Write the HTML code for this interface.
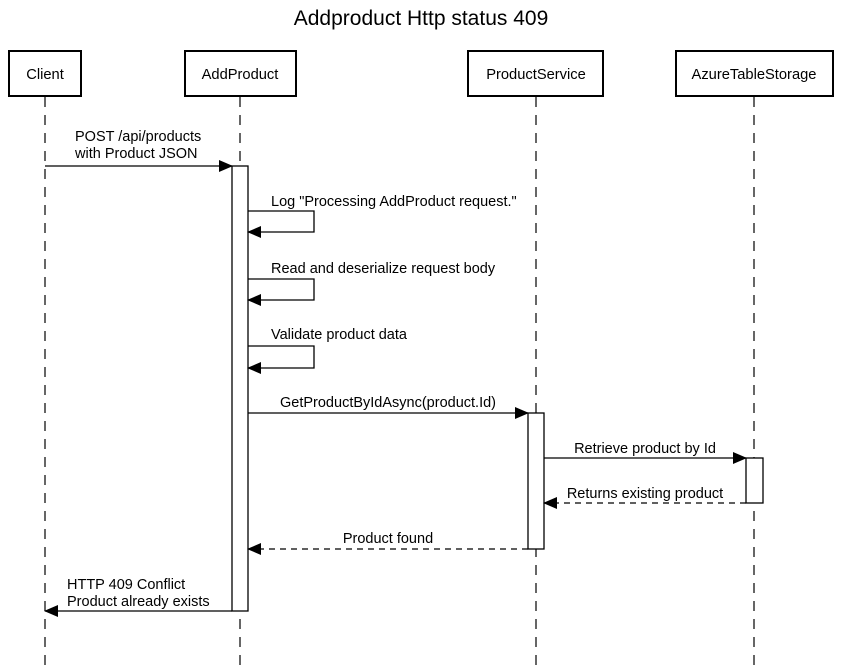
<!DOCTYPE html>
<html><head><meta charset="utf-8"><style>
html,body{margin:0;padding:0;background:#fff;}
svg{display:block;font-family:"Liberation Sans",Arial,sans-serif;}
</style></head><body>
<svg width="842" height="669" viewBox="0 0 842 669" xmlns="http://www.w3.org/2000/svg">
<defs>
<marker id="a" markerWidth="14" markerHeight="12" refX="13" refY="6" orient="auto" markerUnits="userSpaceOnUse">
<path d="M0,0 L14,6 L0,12 Z" fill="#000"/></marker>
</defs>
<text x="421" y="25" font-size="21" text-anchor="middle">Addproduct Http status 409</text>
<g fill="#fff" stroke="#000" stroke-width="2">
<rect x="9" y="51" width="72" height="45"/>
<rect x="185" y="51" width="111" height="45"/>
<rect x="468" y="51" width="135" height="45"/>
<rect x="676" y="51" width="157" height="45"/>
</g>
<g font-size="14.7" text-anchor="middle">
<text x="45" y="79">Client</text>
<text x="240" y="79">AddProduct</text>
<text x="536" y="79">ProductService</text>
<text x="754" y="79">AzureTableStorage</text>
</g>
<g stroke="#333" stroke-width="1.5" stroke-dasharray="10,8">
<line x1="45" y1="97" x2="45" y2="669"/>
<line x1="240" y1="97" x2="240" y2="669"/>
<line x1="536" y1="97" x2="536" y2="669"/>
<line x1="754" y1="97" x2="754" y2="669"/>
</g>
<g fill="#fff" stroke="#000" stroke-width="1.3">
<rect x="232" y="166" width="16" height="445"/>
<rect x="528" y="413" width="16" height="136"/>
<rect x="746" y="458" width="17" height="45"/>
</g>
<g stroke="#000" stroke-width="1.3" fill="none">
<line x1="45" y1="166" x2="232" y2="166" marker-end="url(#a)"/>
<polyline points="248,211 314,211 314,232 248,232" marker-end="url(#a)"/>
<polyline points="248,279 314,279 314,300 248,300" marker-end="url(#a)"/>
<polyline points="248,346 314,346 314,368 248,368" marker-end="url(#a)"/>
<line x1="248" y1="413" x2="528" y2="413" marker-end="url(#a)"/>
<line x1="544" y1="458" x2="746" y2="458" marker-end="url(#a)"/>
<line x1="746" y1="503" x2="544" y2="503" stroke-dasharray="6,5" marker-end="url(#a)"/>
<line x1="528" y1="549" x2="248" y2="549" stroke-dasharray="6,5" marker-end="url(#a)"/>
<line x1="232" y1="611" x2="45" y2="611" marker-end="url(#a)"/>
</g>
<g font-size="14.5">
<text x="75" y="141">POST /api/products</text>
<text x="75" y="158">with Product JSON</text>
<text x="271" y="206">Log "Processing AddProduct request."</text>
<text x="271" y="273">Read and deserialize request body</text>
<text x="271" y="339">Validate product data</text>
<text x="388" y="407" text-anchor="middle">GetProductByIdAsync(product.Id)</text>
<text x="645" y="453" text-anchor="middle">Retrieve product by Id</text>
<text x="645" y="498" text-anchor="middle">Returns existing product</text>
<text x="388" y="543" text-anchor="middle">Product found</text>
<text x="67" y="589">HTTP 409 Conflict</text>
<text x="67" y="606">Product already exists</text>
</g>
</svg>
</body></html>
